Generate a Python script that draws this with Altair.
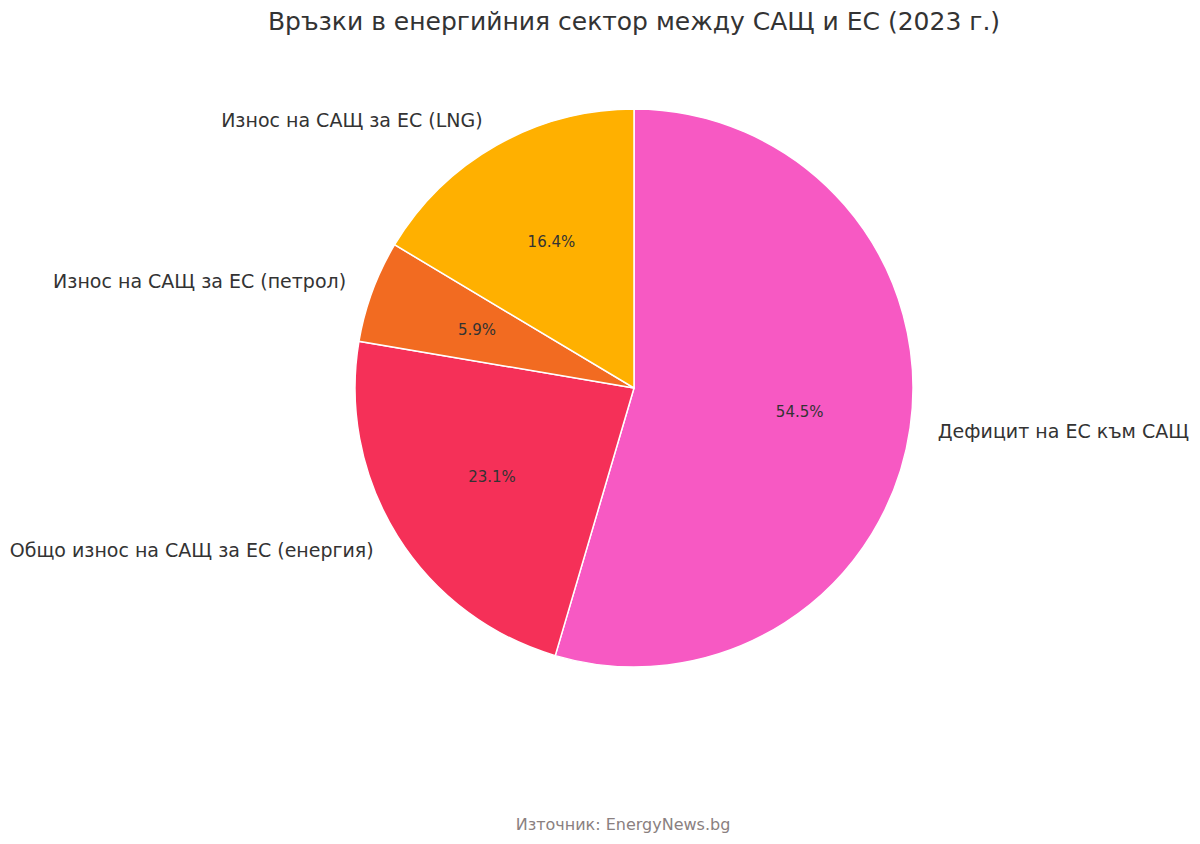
import altair as alt
import pandas as pd

# Data (clockwise order from 12 o'clock)
categories = [
    "Дефицит на ЕС към САЩ",
    "Общо износ на САЩ за ЕС (енергия)",
    "Износ на САЩ за ЕС (петрол)",
    "Износ на САЩ за ЕС (LNG)",
]
shares = [54.5, 23.1, 5.9, 16.4]
sides = ["right", "left", "left", "left"]
colors = ["#F759C3", "#F53058", "#F26B21", "#FFB000"]
title_text = "Връзки в енергийния сектор между САЩ и ЕС (2023 г.)"
source_text = "Източник: EnergyNews.bg"

df = pd.DataFrame({
    "cat": categories,
    "share": shares,
    "side": sides,
    "idx": list(range(len(categories))),
})
df["pct"] = [f"{v:.1f}%" for v in shares]

CX, CY, R = 626, 380, 279
FONT = "DejaVu Sans"

base = alt.Chart(df).encode(
    theta=alt.Theta("share:Q", stack=True),
    order=alt.Order("idx:Q", sort="ascending"),
    x=alt.value(CX),
    y=alt.value(CY),
)

arcs = base.mark_arc(outerRadius=R, stroke="white", strokeWidth=1.5).encode(
    color=alt.Color("cat:N", scale=alt.Scale(domain=categories, range=colors), legend=None)
)

pct_text = base.mark_text(radius=R * 0.6, font=FONT, fontSize=15, color="#333333").encode(
    text="pct:N"
)

lab_right = base.transform_calculate(
    lab="datum.side == 'right' ? datum.cat : ''"
).mark_text(radius=R * 1.1, font=FONT, fontSize=19, color="#333333", align="left", baseline="middle").encode(
    text="lab:N"
)
lab_left = base.transform_calculate(
    lab="datum.side == 'left' ? datum.cat : ''"
).mark_text(radius=R * 1.1, font=FONT, fontSize=19, color="#333333", align="right", baseline="middle").encode(
    text="lab:N"
)

title = alt.Chart(pd.DataFrame({"t": [title_text]})).mark_text(
    font=FONT, fontSize=25, color="#333333", align="center", baseline="middle"
).encode(text="t:N", x=alt.value(626), y=alt.value(14))

source = alt.Chart(pd.DataFrame({"t": [source_text]})).mark_text(
    font=FONT, fontSize=16, color="#8a8080", align="center", baseline="middle"
).encode(text="t:N", x=alt.value(615), y=alt.value(817))

chart = alt.layer(arcs, pct_text, lab_right, lab_left, title, source).properties(
    width=1184, height=828, padding=0,
    autosize=alt.AutoSizeParams(type="none"),
).configure_view(stroke=None)

chart.save("out.html", embed_options={"renderer": "svg", "actions": False})
